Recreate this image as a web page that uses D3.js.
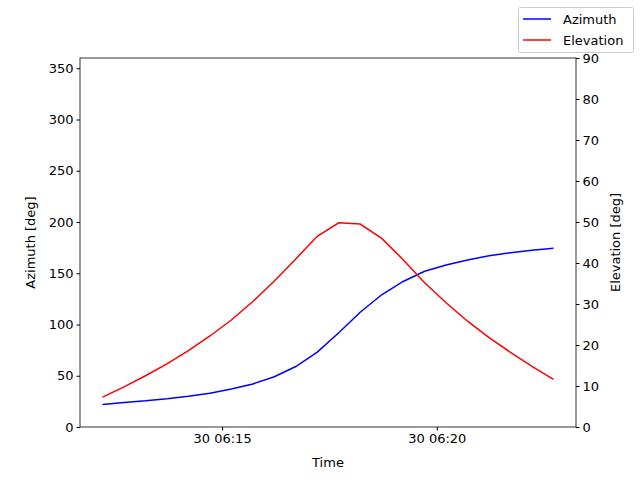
<!DOCTYPE html>
<html><head><meta charset="utf-8">
<script src="https://cdn.jsdelivr.net/npm/d3@7"></script>
<style>body{margin:0;background:#fff}svg text{font-family:"DejaVu Sans";font-size:13px}</style>
</head><body><svg id="c" width="640" height="480"></svg>
<script>
const startTime = "2024-01-30T06:12:13";
const stepSeconds = 30;
const azimuth = [22,24,25.5,27.5,30,33,37,42,49,59,73,92,112,129,142,152,158,163,167,170,172.5,174.5];
const elevation = [7.3,9.8,12.5,15.4,18.6,22.2,26.1,30.6,35.6,41,46.5,49.8,49.5,46,40.8,35.2,30.3,25.8,21.8,18.2,14.8,11.6];
const xTicks = ["2024-01-30T06:15:00","2024-01-30T06:20:00"];
const leftTicks = [0,50,100,150,200,250,300,350];
const rightTicks = [0,10,20,30,40,50,60,70,80,90];

const t0 = new Date(startTime);
const times = azimuth.map((_,i)=>new Date(t0.getTime()+i*stepSeconds*1000));
const L=80,R=576,T=58,B=427;
const svg=d3.select("#c");
const span=times[times.length-1]-times[0];
const x=d3.scaleTime().domain([new Date(+times[0]-span*0.05),new Date(+times[times.length-1]+span*0.05)]).range([L,R]);
const yl=d3.scaleLinear().domain([0,360]).range([B,T]);
const yr=d3.scaleLinear().domain([0,90]).range([B,T]);
const fmt=d3.timeFormat("%d %H:%M");
svg.append("g").attr("transform",`translate(0,${B})`).call(d3.axisBottom(x).tickValues(xTicks.map(s=>new Date(s))).tickFormat(fmt).tickSizeOuter(0).tickSize(3.5));
svg.append("g").attr("transform",`translate(${L},0)`).call(d3.axisLeft(yl).tickValues(leftTicks).tickSizeOuter(0).tickSize(3.5));
svg.append("g").attr("transform",`translate(${R},0)`).call(d3.axisRight(yr).tickValues(rightTicks).tickSizeOuter(0).tickSize(3.5));
svg.selectAll(".tick text").attr("fill","#000").style("font-size","13px");
svg.selectAll(".domain").remove();
svg.append("rect").attr("x",L).attr("y",T).attr("width",R-L).attr("height",B-T).attr("fill","none").attr("stroke","#000").attr("stroke-width",0.8);
svg.append("path").datum(azimuth).attr("fill","none").attr("stroke","blue").attr("stroke-width",1.5)
 .attr("d",d3.line().x((d,i)=>x(times[i])).y(d=>yl(d)));
svg.append("path").datum(elevation).attr("fill","none").attr("stroke","red").attr("stroke-width",1.5)
 .attr("d",d3.line().x((d,i)=>x(times[i])).y(d=>yr(d)));
svg.append("text").attr("x",(L+R)/2).attr("y",467).attr("text-anchor","middle").text("Time");
svg.append("text").attr("transform",`translate(35,${(T+B)/2}) rotate(-90)`).attr("text-anchor","middle").text("Azimuth [deg]");
svg.append("text").attr("transform",`translate(620,${(T+B)/2}) rotate(-90)`).attr("text-anchor","middle").text("Elevation [deg]");
const lg=svg.append("g");
lg.append("rect").attr("x",518.5).attr("y",7.5).attr("width",115).attr("height",45).attr("rx",2).attr("fill","#fff").attr("stroke","#ccc");
[["Azimuth","blue",19],["Elevation","red",40]].forEach(([n,c,y])=>{
 lg.append("line").attr("x1",523).attr("x2",551).attr("y1",y).attr("y2",y).attr("stroke",c).attr("stroke-width",1.5);
 lg.append("text").attr("x",563).attr("y",y+5).text(n);
});
</script></body></html>
